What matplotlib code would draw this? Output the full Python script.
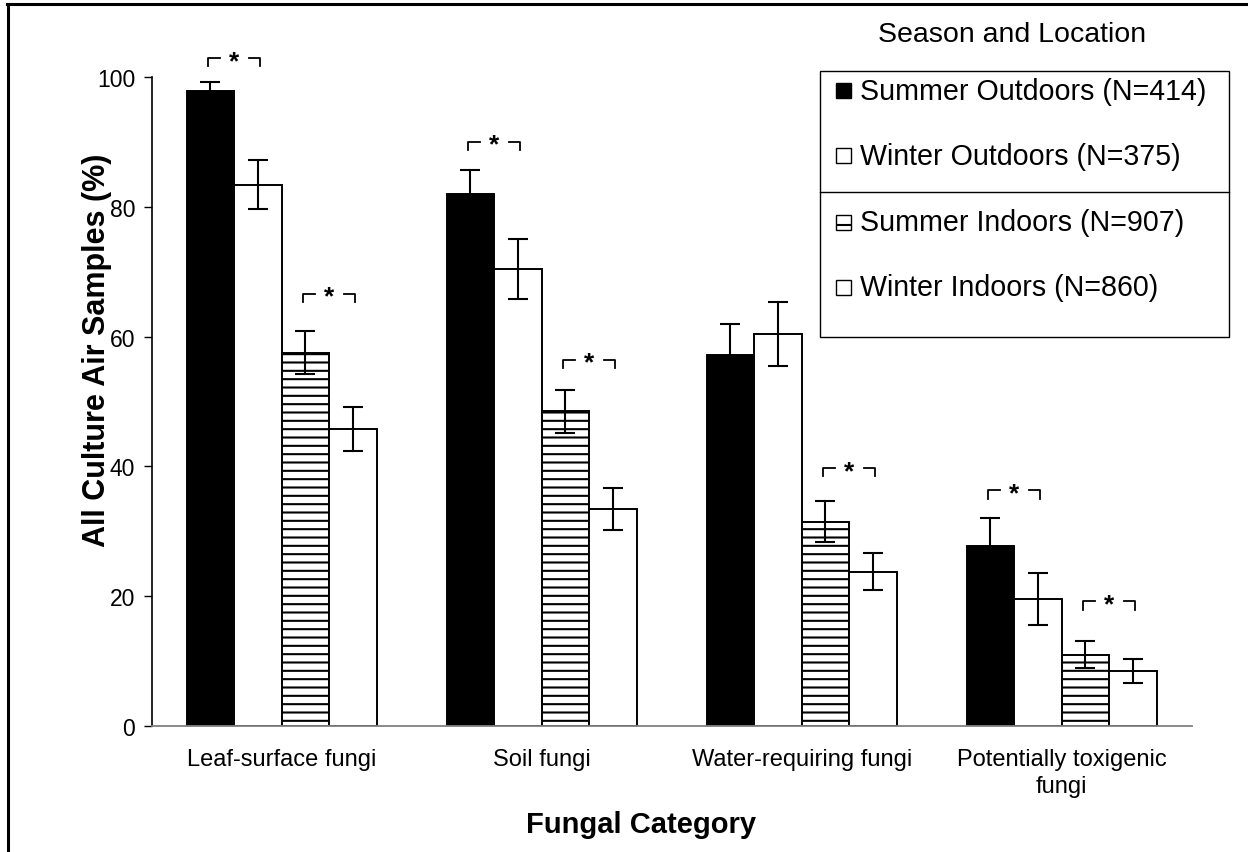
import numpy as np
import matplotlib
matplotlib.use("Agg")
import matplotlib.pyplot as plt
from matplotlib.patches import Rectangle
from matplotlib.lines import Line2D

plt.rcParams['font.family'] = ['Liberation Sans', 'DejaVu Sans']
plt.rcParams['hatch.linewidth'] = 1.5

categories = ["Leaf-surface fungi", "Soil fungi", "Water-requiring fungi",
              "Potentially toxigenic\nfungi"]
series = ["Summer Outdoors (N=414)", "Winter Outdoors (N=375)",
          "Summer Indoors (N=907)", "Winter Indoors (N=860)"]
summer_out = [97.8, 82.0, 57.2, 27.8]
winter_out = [83.4, 70.4, 60.4, 19.6]
summer_in = [57.5, 48.5, 31.5, 11.0]
winter_in = [45.8, 33.4, 23.8, 8.4]
summer_out_err = [1.5, 3.7, 4.8, 4.3]
winter_out_err = [3.8, 4.6, 5.0, 4.0]
summer_in_err = [3.3, 3.3, 3.1, 2.1]
winter_in_err = [3.4, 3.2, 2.85, 1.85]
# significance brackets: (category index, first series index, bracket level)
sig_cat = [0, 0, 1, 1, 2, 3, 3]
sig_pair = [0, 2, 0, 2, 2, 0, 2]
sig_level = [102.9, 66.6, 90.0, 56.4, 39.7, 36.3, 19.2]
yticks = [0, 20, 40, 60, 80, 100]

values = [summer_out, winter_out, summer_in, winter_in]
errors = [summer_out_err, winter_out_err, summer_in_err, winter_in_err]
facecolors = ['black', 'white', 'white', 'white']
hatches = [None, None, '--', None]

W, H = 1248, 853
fig = plt.figure(figsize=(W / 100, H / 100), dpi=100)
ax = fig.add_axes([151.7 / W, 1 - 727 / H, (1191.7 - 151.7) / W, (727 - 78) / H])

x = np.arange(len(categories))
bw = 0.183
for i in range(4):
    pos = x + (i - 1.5) * bw
    ax.bar(pos, values[i], width=bw, color=facecolors[i], edgecolor='black',
           linewidth=1.4, hatch=hatches[i], zorder=2)
    ax.errorbar(pos, values[i], yerr=errors[i], fmt='none', ecolor='black',
                elinewidth=1.5, capsize=7.5, capthick=1.5, zorder=3)

# significance brackets
for c, p, lvl in zip(sig_cat, sig_pair, sig_level):
    x1 = x[c] + (p - 1.5) * bw
    x2 = x[c] + (p + 1 - 1.5) * bw
    xm = (x1 + x2) / 2
    span = 0.1
    seg = 0.044
    tick = 1.25
    kw = dict(color='black', lw=1.3, clip_on=False, zorder=4)
    ax.plot([xm - span, xm - span, xm - span + seg], [lvl - tick, lvl, lvl], **kw)
    ax.plot([xm + span - seg, xm + span, xm + span], [lvl, lvl, lvl - tick], **kw)
    ax.annotate('*', xy=(xm, lvl), xytext=(0, -7), textcoords='offset points',
                ha='center', va='baseline', fontsize=19, fontweight='bold',
                annotation_clip=False)

ax.set_xlim(-0.5, 3.5)
ax.set_ylim(0, 100)
ax.set_yticks(yticks)
ax.set_xticks(x)
ax.set_xticklabels(categories, fontsize=17, linespacing=1.3)
ax.tick_params(axis='x', length=0, pad=16)
ax.tick_params(axis='y', length=6, width=1.0, labelsize=16.5, pad=6, direction='out')
for s in ['top', 'right']:
    ax.spines[s].set_visible(False)
ax.spines['left'].set_linewidth(1.2)
ax.spines['bottom'].set_linewidth(1.3)
ax.spines['bottom'].set_color('#808080')

fig.text(97 / W, 1 - 350 / H, "All Culture Air Samples (%)", rotation=90,
         ha='center', va='center', fontsize=22, fontweight='bold')
fig.text(641 / W, 1 - 825 / H, "Fungal Category", ha='center', va='center',
         fontsize=21, fontweight='bold')

# legend (manual)
lx0, lx1, ly0, ly1 = 820, 1229, 72, 338
def fx(px):
    return px / W
def fy(py):
    return 1 - py / H
fig.add_artist(Rectangle((fx(lx0), fy(ly1)), fx(lx1) - fx(lx0), fy(ly0) - fy(ly1),
                         transform=fig.transFigure, facecolor='white',
                         edgecolor='black', linewidth=1.0, zorder=5))
fig.add_artist(Line2D([fx(lx0), fx(lx1)], [fy(193), fy(193)],
                      transform=fig.transFigure, color='black', lw=1.0, zorder=6))
fig.text(fx(1012), fy(35), "Season and Location", ha='center', va='center',
         fontsize=20.5, zorder=6)
ycent = [91.7, 156.7, 223.3, 288.3]
for i, name in enumerate(series):
    yc = ycent[i]
    fig.add_artist(Rectangle((fx(836), fy(yc + 7.5)), fx(851) - fx(836), fy(yc - 7.5) - fy(yc + 7.5),
                             transform=fig.transFigure, facecolor=facecolors[i],
                             edgecolor='black', linewidth=1.0, hatch=hatches[i] and '-',
                             zorder=6))
    fig.text(fx(860), fy(yc), name, ha='left', va='center', fontsize=20.6, zorder=6)

# outer frame lines (partial border)
fig.add_artist(Line2D([fx(7.5), fx(7.5)], [fy(5), 0], transform=fig.transFigure,
                      color='black', lw=2.2))
fig.add_artist(Line2D([fx(6.5), 1], [fy(5), fy(5)], transform=fig.transFigure,
                      color='black', lw=2.2))

fig.savefig("out.png", dpi=100)
